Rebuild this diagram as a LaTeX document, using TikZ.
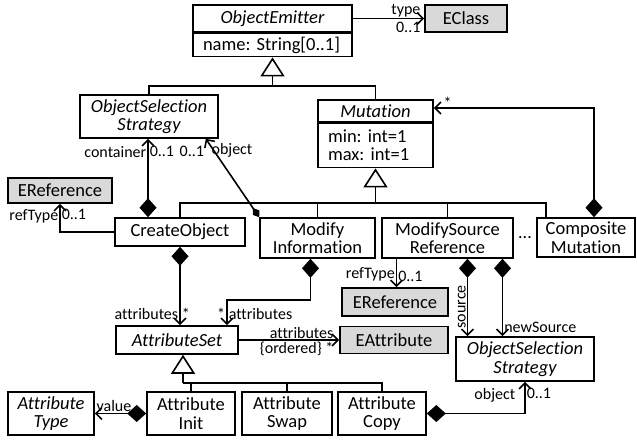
\documentclass[tikz,border=0pt]{standalone}
\usepackage{fontspec}
\setmainfont{Carlito}[Ligatures=NoCommon]
\usetikzlibrary{arrows.meta,positioning}

\begin{document}
\frenchspacing
\begin{tikzpicture}[x=1pt,y=-1pt,line width=1.6pt,
  class/.style={draw,fill=white,inner sep=0pt,align=center,font=\fontsize{18.5}{18.5}\selectfont},
  abstract/.style={class,font=\fontsize{18.5}{18.5}\selectfont\itshape},
  ecore/.style={class,fill=black!15},
  attrs/.style={draw,fill=white,inner xsep=10pt,inner ysep=0pt,align=left,font=\fontsize{18.5}{18}\selectfont},
  lbl/.style={inner sep=1pt,font=\fontsize{16}{16}\selectfont},
  nav/.style={-{Straight Barb[length=6pt,width=12pt]}},
  comp/.style={{Diamond[length=19pt,width=17pt]}-{Straight Barb[length=6pt,width=12pt]}},
  gen/.style={-{Triangle[open,length=19pt,width=24pt]}}]

  \useasboundingbox (0,0) rectangle (637,439);

  % classes
  \node[abstract,minimum width=159pt,minimum height=27pt] (emitter) at (272.5,18.5) {ObjectEmitter};
  \node[attrs,text width=139pt,minimum height=23pt,below=0pt of emitter] (emitterattr) {name: String[0..1]};
  \node[ecore,minimum width=82pt,minimum height=27pt] (eclass) at (466,18.5) {EClass};
  \node[abstract,minimum width=138pt,minimum height=43pt] (objsel) at (149,116.5) {ObjectSelection\\Strategy};
  \node[abstract,minimum width=115pt,minimum height=22pt] (mutation) at (375.5,111) {Mutation};
  \node[attrs,text width=95pt,minimum height=44pt,below=0pt of mutation] (mutationattr) {min: int=1\\max: int=1};
  \node[ecore,minimum width=104pt,minimum height=25pt] (erefA) at (60,190.5) {EReference};
  \node[class,minimum width=130pt,minimum height=28pt] (create) at (180,232) {CreateObject};
  \node[class,minimum width=115pt,minimum height=40pt] (modinfo) at (317.5,238) {Modify\\Information};
  \node[class,minimum width=131pt,minimum height=40pt] (modsrc) at (447.5,238) {ModifySource\\Reference};
  \node[class,minimum width=98pt,minimum height=39pt] (composite) at (586,237.5) {Composite\\Mutation};
  \node[lbl,font=\fontsize{18}{18}\selectfont] (dots) at (525,238) {...};
  \node[ecore,minimum width=106pt,minimum height=28pt] (erefB) at (395,302) {EReference};
  \node[abstract,minimum width=122pt,minimum height=28pt] (attrset) at (177,340) {AttributeSet};
  \node[ecore,minimum width=108pt,minimum height=27pt] (eattr) at (394,340) {EAttribute};
  \node[abstract,minimum width=138pt,minimum height=44pt] (objselB) at (525,359) {ObjectSelection\\Strategy};
  \node[abstract,minimum width=86pt,minimum height=43pt] (attrtype) at (51,413.5) {Attribute\\Type};
  \node[class,minimum width=88pt,minimum height=43pt] (attrinit) at (191,413.5) {Attribute\\Init};
  \node[class,minimum width=90pt,minimum height=43pt] (attrswap) at (287,413.5) {Attribute\\Swap};
  \node[class,minimum width=88pt,minimum height=43pt] (attrcopy) at (382,413.5) {Attribute\\Copy};

  % helper points
  \coordinate (bar1) at (0,86);
  \coordinate (bar2) at (0,203);
  \coordinate (bar3) at (0,383);
  \coordinate (comptop) at ([xshift=10pt]composite.north west);
  \coordinate (setgen) at ([xshift=6pt]attrset.south);
  \coordinate (attin) at ([xshift=50pt]attrset.north);
  \coordinate (rt) at ([xshift=-51pt]modsrc.south);
  \coordinate (src) at ([xshift=20pt]modsrc.south);
  \coordinate (nsrc) at ([xshift=55pt]modsrc.south);

  % generalizations
  \draw (objsel.north) |- (mutation.north |- bar1) -- (mutation.north);
  \draw[gen] (emitterattr.south |- bar1) -- (emitterattr.south);
  \draw (create.north) |- (comptop |- bar2) -- (comptop);
  \draw (modinfo.north) -- (modinfo.north |- bar2);
  \draw (modsrc.north) -- (modsrc.north |- bar2);
  \draw[gen] (mutationattr.south |- bar2) -- (mutationattr.south);
  \draw (attrcopy.north) |- (setgen |- bar3);
  \draw (attrinit.north) -- (attrinit.north |- bar3);
  \draw (attrswap.north) -- (attrswap.north |- bar3);
  \draw[gen] (setgen |- bar3) -- (setgen);

  % associations
  \draw[nav] (emitter.east) -- (eclass.west)
    node[lbl,above left,xshift=-2pt] {type} node[lbl,below left,xshift=-2pt,yshift=-2pt] {0..1};
  \draw[comp] ([xshift=-32pt]create.north) -- ([xshift=-32pt]create.north |- objsel.south)
    node[lbl,below left,yshift=-6pt] {container} node[lbl,below right,yshift=-6pt] {0..1};
  \draw[{Diamond[length=11pt,width=8pt]}-{Straight Barb[length=6pt,width=12pt]}]
    (modinfo.north west) -- ([xshift=-13pt]objsel.south east)
    node[lbl,below left,yshift=-6pt] {0..1} node[lbl,below right,xshift=4pt,yshift=-3pt] {object};
  \draw[nav] (create.west) -| (erefA.south)
    node[lbl,below left,yshift=-4pt] {refType} node[lbl,below right,yshift=-4pt] {0..1};
  \draw[comp] ([xshift=8pt]composite.north) |- ([yshift=3pt]mutation.east)
    node[lbl,above right,xshift=8pt,yshift=-2pt] {*};
  \draw[comp] (create.south) -- (create.south |- attrset.north)
    node[lbl,above left,yshift=4pt] {attributes} node[lbl,above right,yshift=4pt] {*};
  \draw[comp] ([xshift=-7pt]modinfo.south) |- ([yshift=25pt]attin) -- (attin)
    node[lbl,above left,yshift=4pt] {*} node[lbl,above right,yshift=4pt] {attributes};
  \draw[nav] (attrset.east) -- (eattr.west)
    node[lbl,above left,xshift=-4pt] {attributes} node[lbl,below left,xshift=-4pt] {\{ordered\} *};
  \draw[nav] (rt) -- (rt |- erefB.north)
    node[lbl,above left,yshift=4pt] {refType} node[lbl,above right,yshift=4pt] {0..1};
  \draw[comp] (src) -- (src |- objselB.north)
    node[lbl,rotate=90,anchor=south,pos=0.62] {source};
  \draw[comp] (nsrc) -- (nsrc |- objselB.north)
    node[lbl,above right,yshift=2pt] {newSource};
  \draw[comp] (attrcopy.east) -| (objselB.south)
    node[lbl,below left,xshift=-8pt,yshift=-5pt] {object} node[lbl,below right,yshift=-5pt] {0..1};
  \draw[comp] (attrinit.west) -- (attrtype.east)
    node[lbl,above right] {value};
\end{tikzpicture}
\end{document}
